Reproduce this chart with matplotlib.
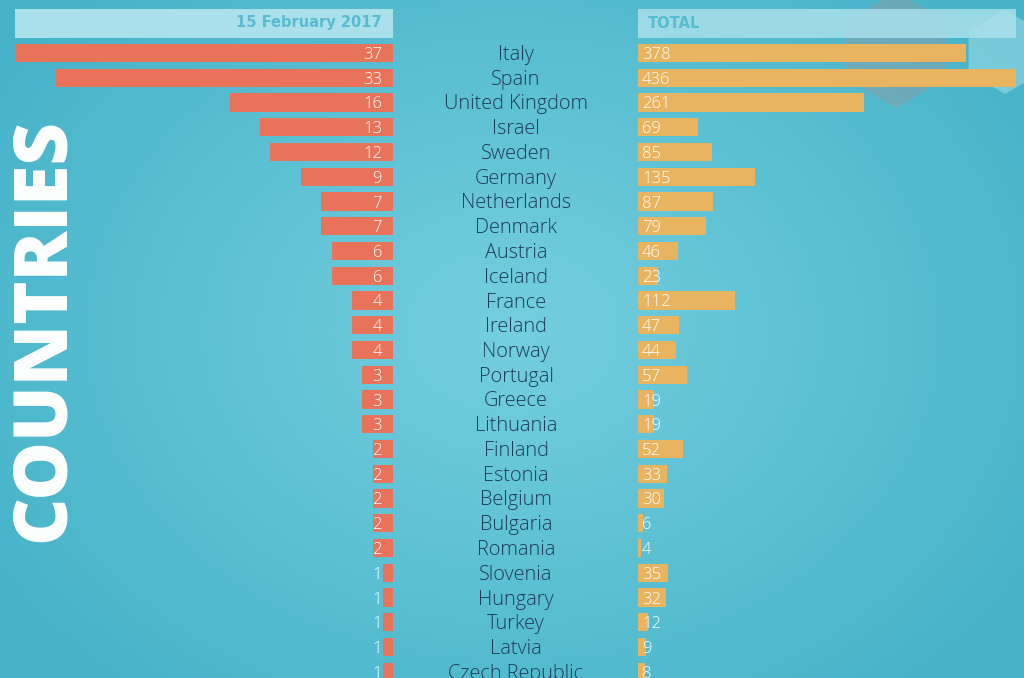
import numpy as np
import matplotlib
matplotlib.use("Agg")
import matplotlib.pyplot as plt
from matplotlib.patches import Rectangle, Polygon

# Data
countries = ["Italy", "Spain", "United Kingdom", "Israel", "Sweden", "Germany",
             "Netherlands", "Denmark", "Austria", "Iceland", "France", "Ireland",
             "Norway", "Portugal", "Greece", "Lithuania", "Finland", "Estonia",
             "Belgium", "Bulgaria", "Romania", "Slovenia", "Hungary", "Turkey",
             "Latvia", "Czech Republic"]
selected = [37, 33, 16, 13, 12, 9, 7, 7, 6, 6, 4, 4, 4, 3, 3, 3, 2, 2, 2, 2, 2,
            1, 1, 1, 1, 1]
total = [378, 436, 261, 69, 85, 135, 87, 79, 46, 23, 112, 47, 44, 57, 19, 19,
         52, 33, 30, 6, 4, 35, 32, 12, 9, 8]
left_title = "15 February 2017"
right_title = "TOTAL"
side_title = "COUNTRIES"

W, H = 1024, 678
fig = plt.figure(figsize=(W / 100, H / 100), dpi=100)

# background radial gradient
bg = fig.add_axes([0, 0, 1, 1])
yy, xx = np.mgrid[0:H, 0:W]
r = np.sqrt(((xx - 512) / 620.0) ** 2 + ((yy - 330) / 480.0) ** 2)
r = np.clip(r, 0, 1)
c_in = np.array([0x74, 0xcf, 0xdf]) / 255
c_out = np.array([0x46, 0xb3, 0xc9]) / 255
img = c_in[None, None, :] * (1 - r[..., None]) + c_out[None, None, :] * r[..., None]
bg.imshow(img, extent=[0, W, H, 0], aspect="auto")
bg.set_xlim(0, W)
bg.set_ylim(H, 0)
bg.axis("off")

# hexagon decorations top right
def hexagon(cx, cy, rad):
    ang = np.deg2rad(np.arange(6) * 60 + 90)
    return np.column_stack([cx + rad * np.cos(ang), cy - rad * np.sin(ang)])

bg.add_patch(Polygon(hexagon(896, 50, 58), closed=True, color="#8a9ea6", alpha=0.5, lw=0))
bg.add_patch(Polygon(hexagon(1005, 52, 42), closed=True, color="#b5e6ee", alpha=0.45, lw=0))

# header strips
bg.add_patch(Rectangle((15, 9), 378, 29, color="#a9e0ea", lw=0))
bg.add_patch(Rectangle((638, 9), 378, 29, color="#a9e0ea", alpha=0.85, lw=0))
bg.text(382, 23, left_title, ha="right", va="center", color="#58bbcf",
        fontsize=10.5, fontweight="bold")
bg.text(648, 23, right_title, ha="left", va="center", color="#58bbcf",
        fontsize=10.5, fontweight="bold")
bg.text(44, 330, side_title, rotation=90, ha="center", va="center", color="white",
        fontsize=53, fontweight="heavy", family="Open Sans")

y = np.arange(len(countries))
row0, step = 53, 24.75
ylim = ((H - row0) / step, -row0 / step)

# left bars
axl = fig.add_axes([15 / W, 0, 378 / W, 1])
axl.barh(y, selected, height=0.73, color="#e8735a")
axl.set_xlim(max(selected), 0)
axl.set_ylim(*ylim)
axl.axis("off")
for yi, v in zip(y, selected):
    axl.annotate(str(v), (0, yi), xytext=(-11, -2), textcoords="offset pixels",
                 ha="right", va="center", color="white", fontsize=12,
                 family="Open Sans", fontweight="light")

# right bars
axr = fig.add_axes([638 / W, 0, 378 / W, 1])
axr.barh(y, total, height=0.73, color="#e9b45f")
axr.set_xlim(0, max(total))
axr.set_ylim(*ylim)
axr.axis("off")
for yi, v in zip(y, total):
    axr.annotate(str(v), (0, yi), xytext=(4, -2), textcoords="offset pixels",
                 ha="left", va="center", color="white", fontsize=12,
                 family="Open Sans", fontweight="light")

# country names in the middle
for yi, name in zip(y, countries):
    axl.annotate(name, (0, yi), xytext=(123, -2), textcoords="offset pixels",
                 ha="center", va="center", color="#1d3a57", fontsize=14.3,
                 family="Open Sans", fontweight="light", annotation_clip=False)

fig.savefig("out.png", dpi=100)
